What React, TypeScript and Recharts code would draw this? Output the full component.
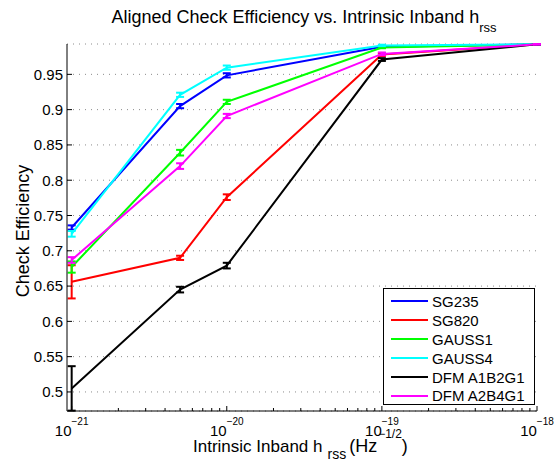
// App.tsx
import React from 'react';
import { LineChart, Line, XAxis, YAxis, CartesianGrid, ErrorBar, Legend } from 'recharts';

// intrinsic inband hrss of the injections
const hrss = [1e-21, 5e-21, 1e-20, 1e-19, 1e-18];

// efficiency + error for each waveform
const sg235 = [0.733, 0.905, 0.9486, 0.989, 0.9925];
const sg235Err = [0.003, 0.003, 0.003, 0.001, 0.0004];
const sg820 = [0.656, 0.69, 0.776, 0.978, 0.9925];
const sg820Err = [0.0235, 0.003, 0.004, 0.002, 0.0004];
const gauss1 = [0.677, 0.839, 0.911, 0.988, 0.9925];
const gauss1Err = [0.008, 0.004, 0.003, 0.001, 0.0004];
const gauss4 = [0.724, 0.921, 0.9595, 0.991, 0.9925];
const gauss4Err = [0.004, 0.003, 0.003, 0.001, 0.0004];
const dfmA1B2G1 = [0.505, 0.645, 0.679, 0.971, 0.9925];
const dfmA1B2G1Err = [0.0315, 0.004, 0.004, 0.002, 0.0004];
const dfmA2B4G1 = [0.687, 0.82, 0.891, 0.979, 0.9925];
const dfmA2B4G1Err = [0.004, 0.004, 0.003, 0.002, 0.0004];

const yTicks = [0.5, 0.55, 0.6, 0.65, 0.7, 0.75, 0.8, 0.85, 0.9, 0.95];
const xDecades = [1e-21, 1e-20, 1e-19, 1e-18];
const xMinor = [2, 3, 4, 5, 6, 7, 8, 9];

const SERIES = [
  { key: 'sg235', name: 'SG235', color: '#0000ff', values: sg235, errors: sg235Err },
  { key: 'sg820', name: 'SG820', color: '#ff0000', values: sg820, errors: sg820Err },
  { key: 'gauss1', name: 'GAUSS1', color: '#00ff00', values: gauss1, errors: gauss1Err },
  { key: 'gauss4', name: 'GAUSS4', color: '#00ffff', values: gauss4, errors: gauss4Err },
  { key: 'dfm1', name: 'DFM A1B2G1', color: '#000000', values: dfmA1B2G1, errors: dfmA1B2G1Err },
  { key: 'dfm2', name: 'DFM A2B4G1', color: '#ff00ff', values: dfmA2B4G1, errors: dfmA2B4G1Err },
];

const FONT = '"Liberation Sans", Arial, Helvetica, sans-serif';

const data = hrss.map((x, i) => {
  const row: Record<string, number> = { x };
  SERIES.forEach((s) => {
    row[s.key] = s.values[i];
    row[s.key + 'Err'] = s.errors[i];
  });
  return row;
});

// decade ticks plus 2..9 minor ticks (last decade only gets its major)
const xTicks: number[] = [];
xDecades.forEach((d, i) => {
  xTicks.push(d);
  if (i < xDecades.length - 1) xMinor.forEach((m) => xTicks.push(m * d));
});

const YTick = ({ x, y, payload }: any) => (
  <g>
    <line x1={x + 4} x2={x + 9} y1={y} y2={y} stroke="#000" />
    <text x={x} y={y} dy="0.36em" textAnchor="end" fontSize={15} fontFamily={FONT} fill="#000">
      {String(payload.value)}
    </text>
  </g>
);

const XTick = ({ x, y, payload }: any) => {
  const e = Math.log10(payload.value);
  const major = Math.abs(e - Math.round(e)) < 1e-6;
  return (
    <g>
      <line x1={x} x2={x} y1={y} y2={y - (major ? 5 : 3)} stroke="#000" />
      {major && (
        <text x={x} y={y + 25} textAnchor="middle" fontFamily={FONT} fill="#000">
          <tspan fontSize={15}>10</tspan>
          <tspan fontSize={10} dy={-11.5}>{'\u2212' + Math.abs(Math.round(e))}</tspan>
        </text>
      )}
    </g>
  );
};

// legend keeps the plotting order (recharts would sort it by name)
const LegendBox = () => (
  <div
    style={{
      width: 152,
      height: 117,
      boxSizing: 'border-box',
      border: '1px solid #000',
      background: '#fff',
      paddingTop: 3,
      fontFamily: FONT,
      fontSize: 15,
      color: '#000',
    }}
  >
    {SERIES.map((s) => (
      <div key={s.key} style={{ display: 'flex', alignItems: 'center', height: 18.9 }}>
        <span style={{ width: 37, height: 2, marginLeft: 7, background: s.color }} />
        <span style={{ marginLeft: 4, lineHeight: '15px' }}>{s.name}</span>
      </div>
    ))}
  </div>
);

export default function App() {
  return (
    <div style={{ position: 'absolute', left: 0, top: 0, width: 555, height: 463, background: '#fff' }}>
      <LineChart width={555} height={463} data={data} margin={{ top: 44, right: 18, bottom: 22, left: 7 }}>
        <CartesianGrid vertical={false} stroke="#8c8c8c" strokeDasharray="1 5" />
        <XAxis
          dataKey="x"
          type="number"
          scale="log"
          domain={[0.933e-21, 1e-18]}
          ticks={xTicks}
          interval={0}
          tickSize={0}
          tickMargin={0}
          height={30}
          tick={<XTick />}
          axisLine={{ stroke: '#000' }}
        />
        <YAxis
          type="number"
          domain={[0.473, 0.993]}
          ticks={yTicks}
          interval={0}
          tickSize={0}
          tickMargin={4}
          width={60}
          tick={<YTick />}
          axisLine={{ stroke: '#000' }}
        />
        <Legend
          layout="horizontal"
          verticalAlign="middle"
          align="center"
          content={<LegendBox />}
          wrapperStyle={{ left: 383, top: 288, width: 152, height: 117 }}
        />
        {SERIES.map((s) => (
          <Line
            key={s.key}
            dataKey={s.key}
            name={s.name}
            type="linear"
            stroke={s.color}
            strokeWidth={2}
            dot={false}
            activeDot={false}
            isAnimationActive={false}
          >
            <ErrorBar dataKey={s.key + 'Err'} direction="y" width={4} stroke={s.color} strokeWidth={2} />
          </Line>
        ))}
      </LineChart>
      <svg
        width={555}
        height={463}
        style={{ position: 'absolute', left: 0, top: 0, pointerEvents: 'none' }}
        fontFamily={FONT}
        fill="#000"
      >
        <text x={304} y={23} textAnchor="middle">
          <tspan fontSize={18}>Aligned Check Efficiency vs. Intrinsic Inband h</tspan>
          <tspan fontSize={13} dy={9}>rss</tspan>
        </text>
        <text x={193} y={452} textAnchor="start">
          <tspan fontSize={17}>Intrinsic Inband h</tspan>
          <tspan fontSize={14} dx={5} dy={6.5}>rss</tspan>
          <tspan fontSize={18} dx={3} dy={-6.5}>(Hz</tspan>
          <tspan fontSize={12} dx={1} dy={-14}>{'\u22121/2'}</tspan>
          <tspan fontSize={18} dy={14}>)</tspan>
        </text>
        <text x={29} y={231} textAnchor="middle" fontSize={18} transform="rotate(-90 29 231)">
          Check Efficiency
        </text>
      </svg>
    </div>
  );
}
